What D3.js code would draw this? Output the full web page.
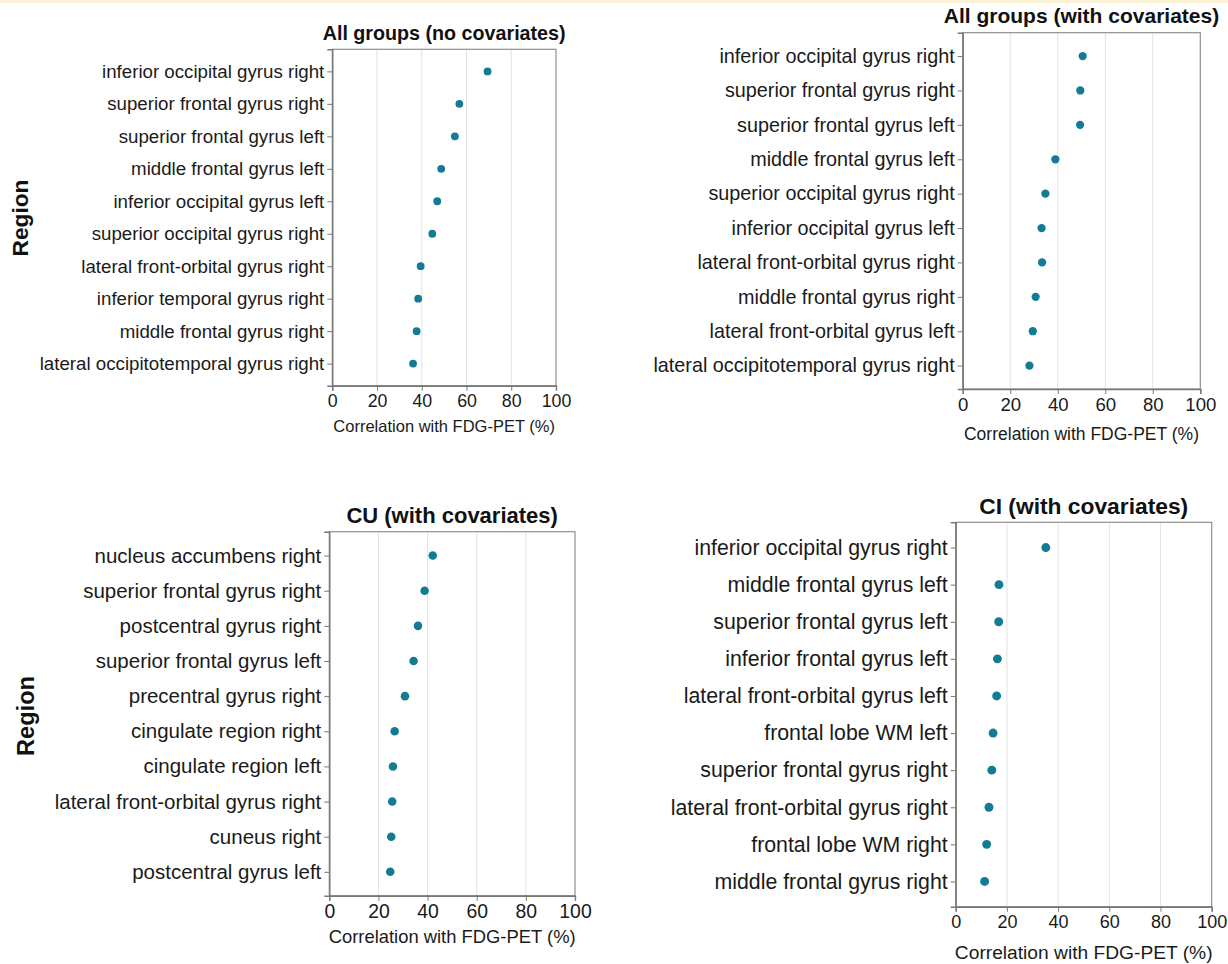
<!DOCTYPE html>
<html>
<head>
<meta charset="utf-8">
<script src="https://cdn.jsdelivr.net/npm/d3@7"></script>
<style>
  body { margin: 0; background: #fff; }
  svg { display: block; font-family: "Liberation Sans", Arial, sans-serif; }
</style>
</head>
<body>
<svg id="chart" width="1228" height="964"></svg>
<script>
// panel titles
var titles = [
  "All groups (no covariates)",
  "All groups (with covariates)",
  "CU (with covariates)",
  "CI (with covariates)"
];

// regions (top to bottom) and correlation values (%)
var allNoCovRegions = [
  "inferior occipital gyrus right", "superior frontal gyrus right", "superior frontal gyrus left",
  "middle frontal gyrus left", "inferior occipital gyrus left", "superior occipital gyrus right",
  "lateral front-orbital gyrus right", "inferior temporal gyrus right", "middle frontal gyrus right",
  "lateral occipitotemporal gyrus right"
];
var allNoCovValues = [69.4, 56.8, 54.8, 48.7, 46.9, 44.7, 39.5, 38.4, 37.7, 36.1];

var allCovRegions = [
  "inferior occipital gyrus right", "superior frontal gyrus right", "superior frontal gyrus left",
  "middle frontal gyrus left", "superior occipital gyrus right", "inferior occipital gyrus left",
  "lateral front-orbital gyrus right", "middle frontal gyrus right", "lateral front-orbital gyrus left",
  "lateral occipitotemporal gyrus right"
];
var allCovValues = [50.5, 49.5, 49.4, 39.0, 34.8, 33.2, 33.4, 30.7, 29.5, 28.1];

var cuRegions = [
  "nucleus accumbens right", "superior frontal gyrus right", "postcentral gyrus right",
  "superior frontal gyrus left", "precentral gyrus right", "cingulate region right",
  "cingulate region left", "lateral front-orbital gyrus right", "cuneus right",
  "postcentral gyrus left"
];
var cuValues = [42.1, 38.8, 36.1, 34.3, 30.8, 26.6, 25.9, 25.6, 25.2, 24.8];

var ciRegions = [
  "inferior occipital gyrus right", "middle frontal gyrus left", "superior frontal gyrus left",
  "inferior frontal gyrus left", "lateral front-orbital gyrus left", "frontal lobe WM left",
  "superior frontal gyrus right", "lateral front-orbital gyrus right", "frontal lobe WM right",
  "middle frontal gyrus right"
];
var ciValues = [35.2, 16.9, 16.8, 16.3, 16.0, 14.6, 14.1, 13.0, 12.1, 11.3];

var xTicks = [0, 20, 40, 60, 80, 100];
var xLabel = "Correlation with FDG-PET (%)";
var yLabel = "Region";

var dotColor = "#137b94";

var svg = d3.select("#chart");

// faint yellow strip along the top edge
svg.append("rect").attr("x", 0).attr("y", 0).attr("width", 1228).attr("height", 3)
  .attr("fill", "#fcf3d6");

var panels = [
  {title: titles[0], regions: allNoCovRegions, values: allNoCovValues,
   left: 332.3, right: 556, top: 49.3, bottom: 385.7,
   font: 18.7, tickFont: 17.8, titleFont: 19.7, axisFont: 16.5, titleY: 33, xLabelY: 426},
  {title: titles[1], regions: allCovRegions, values: allCovValues,
   left: 962.7, right: 1200.3, top: 32.7, bottom: 389,
   font: 19.8, tickFont: 18.6, titleFont: 21, axisFont: 17.5, titleY: 16, xLabelY: 434},
  {title: titles[2], regions: cuRegions, values: cuValues,
   left: 329.3, right: 575, top: 531.7, bottom: 895.7,
   font: 20.5, tickFont: 19.4, titleFont: 22, axisFont: 18.4, titleY: 515, xLabelY: 937},
  {title: titles[3], regions: ciRegions, values: ciValues,
   left: 955.7, right: 1211.7, top: 522.3, bottom: 906.7,
   font: 21.3, tickFont: 18, titleFont: 22.8, axisFont: 19.2, titleY: 506, xLabelY: 952}
];

panels.forEach(function(p) {
  var x = d3.scaleLinear().domain([0, 100]).range([p.left, p.right]);
  var y = d3.scalePoint().domain(p.regions).range([p.top, p.bottom]).padding(0.68);

  var g = svg.append("g");

  // vertical grid lines
  g.selectAll(".grid").data(xTicks.slice(1, -1)).enter().append("line")
    .attr("x1", d => x(d)).attr("x2", d => x(d))
    .attr("y1", p.top).attr("y2", p.bottom)
    .attr("stroke", "#e3e3e3").attr("stroke-width", 1);

  // frame
  g.append("rect")
    .attr("x", p.left).attr("y", p.top)
    .attr("width", p.right - p.left).attr("height", p.bottom - p.top)
    .attr("fill", "none").attr("stroke", "#8f8f8f").attr("stroke-width", 1.2);

  var yAxis = g.append("g")
    .attr("transform", `translate(${p.left},0)`)
    .call(d3.axisLeft(y).tickSize(5).tickPadding(3));
  yAxis.selectAll("text").style("font-size", p.font + "px").attr("fill", "#1a1a1a");

  var xAxis = g.append("g")
    .attr("transform", `translate(0,${p.bottom})`)
    .call(d3.axisBottom(x).tickValues(xTicks).tickSize(5).tickPadding(4));
  xAxis.selectAll("text").style("font-size", p.tickFont + "px").attr("fill", "#1a1a1a");

  [yAxis, xAxis].forEach(function(a) {
    a.select(".domain").attr("stroke", "#777").attr("stroke-width", 1.4);
    a.selectAll(".tick line").attr("stroke", "#777");
  });

  g.selectAll(".dot").data(p.values).enter().append("circle")
    .attr("cx", d => x(d))
    .attr("cy", (d, i) => y(p.regions[i]))
    .attr("r", 3.9 * p.font / 18.7)
    .attr("fill", dotColor);

  g.append("text")
    .attr("x", (p.left + p.right) / 2).attr("y", p.titleY)
    .attr("dy", "0.35em").attr("text-anchor", "middle")
    .style("font-size", p.titleFont + "px").style("font-weight", "bold")
    .attr("fill", "#111").text(p.title);

  g.append("text")
    .attr("x", (p.left + p.right) / 2).attr("y", p.xLabelY)
    .attr("dy", "0.35em").attr("text-anchor", "middle")
    .style("font-size", p.axisFont + "px")
    .attr("fill", "#1a1a1a").text(xLabel);
});

// y axis titles, one per row of panels
[[20, 218, 22.7], [26, 716, 23.6]].forEach(function(r) {
  svg.append("text")
    .attr("transform", `translate(${r[0]},${r[1]}) rotate(-90)`)
    .attr("dy", "0.35em").attr("text-anchor", "middle")
    .style("font-size", r[2] + "px").style("font-weight", "bold")
    .attr("fill", "#111").text(yLabel);
});
</script>
</body>
</html>
